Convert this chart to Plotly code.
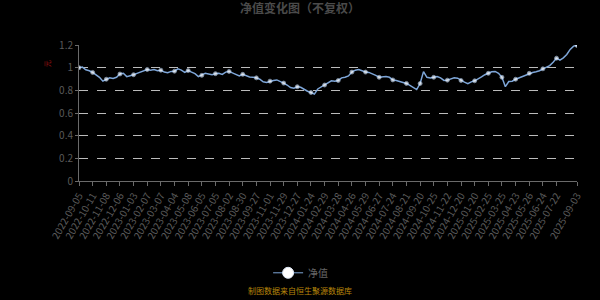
import pandas as pd
import plotly.graph_objects as go

# Tick (label) dates on the category axis, every 20 trading days (last gap ~30)
tick_dates = [
    "2022-09-05", "2022-10-11", "2022-11-08", "2022-12-06", "2023-01-03", "2023-02-07",
    "2023-03-07", "2023-04-04", "2023-05-08", "2023-06-05", "2023-07-05", "2023-08-02",
    "2023-08-30", "2023-09-27", "2023-11-01", "2023-11-29", "2023-12-27", "2024-01-24",
    "2024-02-29", "2024-03-28", "2024-04-26", "2024-05-29", "2024-06-27", "2024-07-24",
    "2024-08-21", "2024-09-20", "2024-10-25", "2024-11-22", "2024-12-20", "2025-01-20",
    "2025-02-25", "2025-03-25", "2025-04-23", "2025-05-26", "2025-06-24", "2025-07-22",
    "2025-09-03",
]

# Net value, roughly weekly samples
nav = [
    1.000, 1.005, 0.981, 0.973, 0.958, 0.940, 0.915, 0.881, 0.898, 0.910,
    0.904, 0.915, 0.944, 0.950, 0.921, 0.927, 0.938, 0.950, 0.961, 0.973,
    0.984, 0.978, 0.984, 0.973, 0.978, 0.961, 0.955, 0.967, 0.969, 0.990,
    0.978, 0.958, 0.975, 0.961, 0.947, 0.921, 0.932, 0.950, 0.944, 0.938,
    0.947, 0.950, 0.941, 0.961, 0.967, 0.952, 0.935, 0.927, 0.941, 0.930,
    0.918, 0.915, 0.910, 0.898, 0.875, 0.870, 0.881, 0.887, 0.892, 0.881,
    0.864, 0.847, 0.824, 0.818, 0.832, 0.827, 0.807, 0.792, 0.781, 0.767,
    0.812, 0.829, 0.847, 0.867, 0.884, 0.881, 0.887, 0.910, 0.915, 0.927,
    0.961, 0.978, 0.984, 0.973, 0.961, 0.958, 0.947, 0.932, 0.915, 0.921,
    0.921, 0.915, 0.892, 0.887, 0.878, 0.870, 0.861, 0.844, 0.829, 0.807,
    0.860, 0.965, 0.915, 0.910, 0.915, 0.921, 0.910, 0.887, 0.890, 0.901,
    0.910, 0.907, 0.887, 0.872, 0.858, 0.875, 0.884, 0.898, 0.918, 0.938,
    0.950, 0.964, 0.967, 0.950, 0.915, 0.832, 0.878, 0.881, 0.898, 0.910,
    0.924, 0.935, 0.950, 0.958, 0.964, 0.973, 0.990, 1.004, 1.018, 1.047,
    1.084, 1.067, 1.087, 1.116, 1.161, 1.190, 1.196,
]

# Weekly category dates: 4 samples per tick interval, 6 in the last one
dates = []
for i in range(len(tick_dates) - 1):
    a = pd.Timestamp(tick_dates[i])
    n = 4 if i < len(tick_dates) - 2 else 6
    for j in range(n):
        dates.append((a + pd.Timedelta(days=7 * j)).strftime("%Y-%m-%d"))
dates.append(tick_dates[-1])

tick_set = set(tick_dates)
msize = [4 if dt in tick_set else 0 for dt in dates]

fig = go.Figure()
fig.add_trace(go.Scatter(
    x=dates, y=nav, mode="lines+markers", name="净值", showlegend=False,
    line=dict(color="#7ea6d8", width=1.5),
    marker=dict(size=msize, color="#ffffff", line=dict(color="#b0cdf0", width=0.8)),
))
# legend entry
fig.add_trace(go.Scatter(
    x=[None], y=[None], mode="lines+markers", name="净值",
    line=dict(color="#7ea6d8", width=1),
    marker=dict(size=11, color="#ffffff", line=dict(color="#dfe9f7", width=1)),
))

fig.update_layout(
    width=600, height=300,
    paper_bgcolor="#000000", plot_bgcolor="#000000",
    margin=dict(l=79, r=23, t=45, b=115),
    font=dict(family="Noto Sans CJK SC, Noto Sans, sans-serif", color="#666666", size=10),
    title=dict(text="<b>净值变化图（不复权）</b>", x=0.5, xanchor="center",
               y=0.972, yanchor="middle",
               font=dict(size=12, color="#4a4a4a")),
    showlegend=True,
    legend=dict(orientation="h", x=0.445, xanchor="center", y=-0.675, yanchor="middle",
                font=dict(size=10, color="#666666"), bgcolor="rgba(0,0,0,0)"),
    xaxis=dict(
        type="category", categoryorder="array", categoryarray=dates,
        range=[0, len(dates) - 1],
        tickmode="array", tickvals=tick_dates, ticktext=tick_dates,
        tickangle=-60, tickfont=dict(size=10, color="#5a5a5a"),
        showgrid=False, showline=True, linecolor="#6a6a6a", linewidth=1,
        ticks="outside", ticklen=4, tickcolor="#6a6a6a",
    ),
    yaxis=dict(
        range=[0, 1.2], dtick=0.2, tick0=0,
        showgrid=True, gridcolor="#bbbbbb", griddash="dash", gridwidth=1,
        zeroline=False, showline=True, linecolor="#6a6a6a", linewidth=1,
        ticks="outside", ticklen=3, tickcolor="#6a6a6a",
        tickfont=dict(size=10, color="#5a5a5a"),
    ),
    annotations=[
        dict(text="元", xref="paper", yref="paper", x=-0.05, y=0.9,
             xanchor="right", showarrow=False, textangle=-90,
             font=dict(size=7, color="#a01010")),
        dict(text="制图数据来自恒生聚源数据库", xref="paper", yref="paper",
             x=0.444, y=-0.805, xanchor="center", yanchor="middle", showarrow=False,
             font=dict(size=8, color="#b8860b")),
    ],
)

fig.write_html("out.html")
